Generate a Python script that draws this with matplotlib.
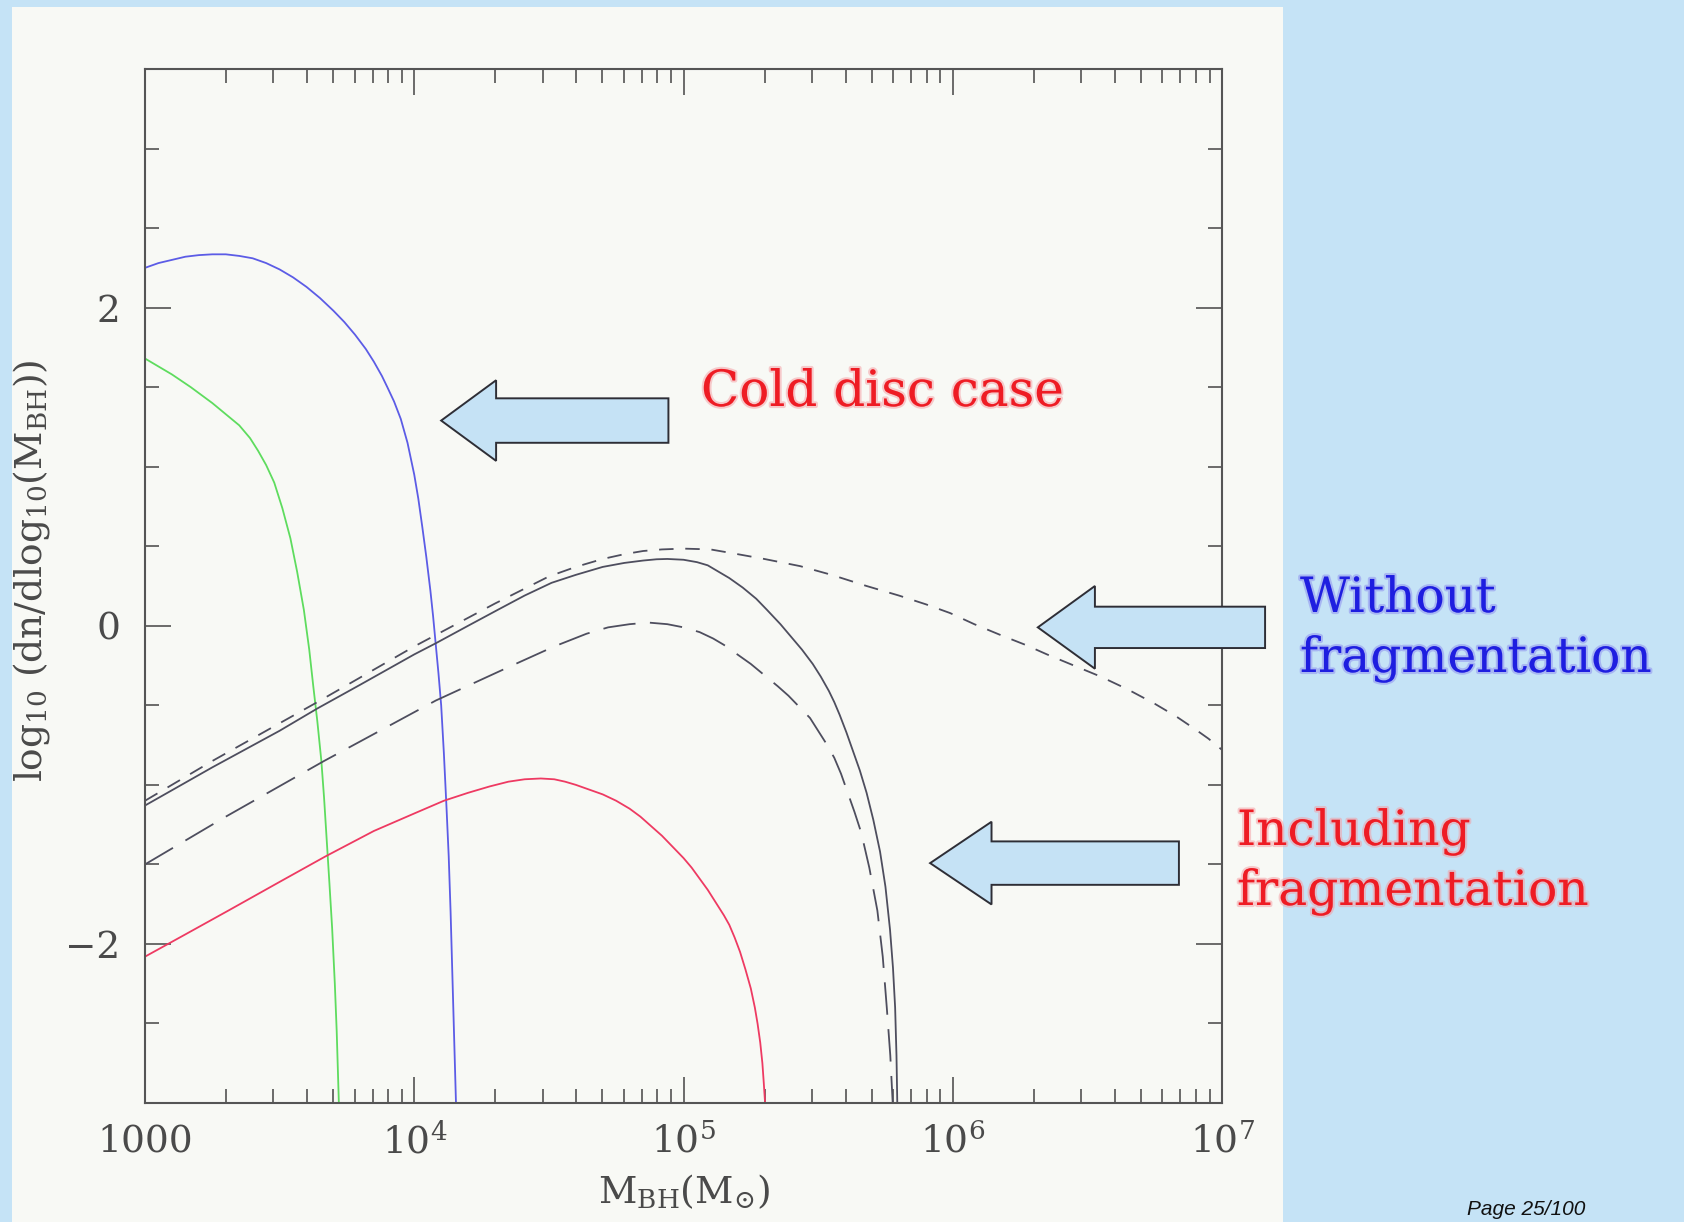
import numpy as np
import matplotlib
matplotlib.use('Agg')
import matplotlib.pyplot as plt
from matplotlib.patches import Polygon, Rectangle
from matplotlib.ticker import FixedLocator, FixedFormatter, LogLocator, NullFormatter, MultipleLocator
import matplotlib.patheffects as pe

plt.rcParams['font.family'] = 'DejaVu Serif'
plt.rcParams['mathtext.fontset'] = 'dejavuserif'

# log10(M_BH) and log10(dn/dlog10 M_BH)
blue_logm = [3.00, 3.05, 3.10, 3.15, 3.20, 3.25, 3.30, 3.35, 3.40, 3.45, 3.50, 3.55, 3.60, 3.65, 3.70, 3.74,
             3.78, 3.82, 3.85, 3.88, 3.90, 3.925, 3.95, 3.975, 4.00, 4.015, 4.03, 4.045, 4.06, 4.07, 4.08,
             4.09, 4.10, 4.11, 4.12, 4.128, 4.135, 4.14, 4.145, 4.15, 4.155]
blue_y = [2.25, 2.28, 2.30, 2.32, 2.33, 2.335, 2.335, 2.325, 2.31, 2.28, 2.24, 2.19, 2.13, 2.06, 1.98, 1.91,
          1.83, 1.74, 1.66, 1.57, 1.50, 1.41, 1.30, 1.15, 0.95, 0.80, 0.62, 0.43, 0.22, 0.06, -0.12,
          -0.30, -0.50, -0.80, -1.15, -1.45, -1.80, -2.10, -2.40, -2.70, -3.0]

green_logm = [3.00, 3.05, 3.10, 3.17, 3.25, 3.30, 3.35, 3.39, 3.42, 3.45, 3.48, 3.51, 3.54, 3.565, 3.59,
              3.61, 3.625, 3.64, 3.655, 3.665, 3.675, 3.685, 3.695, 3.705, 3.712, 3.72]
green_y = [1.68, 1.63, 1.58, 1.50, 1.40, 1.33, 1.26, 1.18, 1.10, 1.01, 0.90, 0.74, 0.55, 0.34, 0.10,
           -0.15, -0.38, -0.60, -0.85, -1.08, -1.35, -1.62, -1.90, -2.25, -2.55, -3.0]

red_logm = [3.00, 3.15, 3.31, 3.50, 3.67, 3.85, 4.00, 4.11, 4.20, 4.28, 4.35, 4.41, 4.47, 4.52, 4.56, 4.60,
            4.65, 4.70, 4.75, 4.80, 4.84, 4.88, 4.92, 4.96, 5.00, 5.03, 5.06, 5.09, 5.12, 5.15, 5.17, 5.19,
            5.21, 5.23, 5.25, 5.265, 5.275, 5.285, 5.293, 5.298, 5.303]
red_y = [-2.08, -1.94, -1.79, -1.61, -1.45, -1.29, -1.18, -1.10, -1.05, -1.01, -0.98, -0.965, -0.96, -0.965,
         -0.98, -1.00, -1.03, -1.06, -1.10, -1.15, -1.20, -1.26, -1.32, -1.39, -1.46, -1.52, -1.59, -1.66,
         -1.74, -1.82, -1.88, -1.96, -2.05, -2.16, -2.28, -2.40, -2.50, -2.62, -2.75, -2.87, -3.0]

solid_logm = [3.00, 3.25, 3.50, 3.64, 3.80, 4.00, 4.08, 4.20, 4.31, 4.41, 4.51, 4.60, 4.70, 4.78, 4.85, 4.90,
              4.94, 5.00, 5.05, 5.09, 5.12, 5.17, 5.22, 5.27, 5.31, 5.36, 5.40, 5.44, 5.48, 5.51, 5.54, 5.56,
              5.58, 5.605, 5.63, 5.655, 5.68, 5.705, 5.73, 5.75, 5.767, 5.778, 5.786, 5.791, 5.794]
solid_y = [-1.13, -0.89, -0.66, -0.52, -0.37, -0.18, -0.11, 0.00, 0.10, 0.19, 0.27, 0.32, 0.37, 0.395, 0.41,
           0.418, 0.42, 0.415, 0.40, 0.38, 0.35, 0.30, 0.24, 0.17, 0.10, 0.01, -0.07, -0.15, -0.24, -0.32,
           -0.41, -0.48, -0.56, -0.67, -0.79, -0.91, -1.05, -1.22, -1.42, -1.64, -1.91, -2.15, -2.40, -2.70, -3.0]

short_logm = [3.00, 3.25, 3.64, 4.00, 4.30, 4.50, 4.60, 4.70, 4.78, 4.85, 4.92, 5.00, 5.10, 5.185, 5.30,
              5.433, 5.55, 5.68, 5.80, 5.90, 5.99, 6.08, 6.18, 6.27, 6.35, 6.45, 6.55, 6.65, 6.75, 6.83,
              6.90, 6.95, 7.00]
short_y = [-1.10, -0.85, -0.48, -0.13, 0.14, 0.31, 0.37, 0.42, 0.45, 0.47, 0.48, 0.485, 0.48, 0.455, 0.42,
           0.375, 0.32, 0.25, 0.19, 0.135, 0.08, 0.01, -0.06, -0.12, -0.18, -0.25, -0.32, -0.40, -0.49, -0.57,
           -0.65, -0.71, -0.78]

long_logm = [3.00, 3.30, 3.665, 4.08, 4.35, 4.52, 4.64, 4.72, 4.80, 4.87, 4.94, 5.00, 5.06, 5.11, 5.15, 5.20,
             5.25, 5.30, 5.35, 5.39, 5.43, 5.47, 5.50, 5.53, 5.56, 5.585, 5.61, 5.635, 5.66, 5.69, 5.72, 5.74,
             5.755, 5.768, 5.777]
long_y = [-1.50, -1.20, -0.85, -0.47, -0.26, -0.13, -0.05, -0.01, 0.01, 0.02, 0.01, -0.01, -0.04, -0.08,
          -0.12, -0.18, -0.24, -0.31, -0.38, -0.44, -0.51, -0.58, -0.66, -0.74, -0.83, -0.93, -1.05, -1.17,
          -1.30, -1.52, -1.79, -2.08, -2.40, -2.70, -3.0]

xtick_vals = [1e3, 1e4, 1e5, 1e6, 1e7]
xtick_labels = ['1000', '$10^4$', '$10^5$', '$10^6$', '$10^7$']

W, H = 1684, 1222
fig = plt.figure(figsize=(W / 100, H / 100), dpi=100, facecolor='#c5e3f6')
fig.patches.append(Rectangle((12 / W, 0), (1283 - 12) / W, (H - 7) / H, transform=fig.transFigure,
                             facecolor='#f8f9f5', edgecolor='none', zorder=-1))

ax = fig.add_axes([145 / W, 119 / H, 1077 / W, 1034 / H])
ax.set_facecolor('#f8f9f5')

line_col = '#4e4e5e'
ax.plot(10 ** np.array(blue_logm), blue_y, color='#5c5ce6', lw=1.3)
ax.plot(10 ** np.array(green_logm), green_y, color='#5edc5e', lw=1.3)
ax.plot(10 ** np.array(red_logm), red_y, color='#ee3a62', lw=1.3)
ax.plot(10 ** np.array(solid_logm), solid_y, color=line_col, lw=1.3)
ax.plot(10 ** np.array(short_logm), short_y, color=line_col, lw=1.3, dashes=(8, 6.5))
ax.plot(10 ** np.array(long_logm), long_y, color=line_col, lw=1.3, dashes=(18, 8))

ax.set_xscale('log')
ax.set_xlim(1e3, 1e7)
ax.set_ylim(-3, 3.5)

ax.xaxis.set_major_locator(FixedLocator(xtick_vals))
ax.xaxis.set_major_formatter(FixedFormatter(xtick_labels))
ax.xaxis.set_minor_locator(LogLocator(base=10, subs=np.arange(2, 10)))
ax.xaxis.set_minor_formatter(NullFormatter())
ax.yaxis.set_major_locator(MultipleLocator(2))
ax.yaxis.set_minor_locator(MultipleLocator(0.5))

ax.tick_params(which='both', direction='in', top=True, right=True, colors='#444444', width=1.1)
ax.tick_params(which='major', length=19, labelsize=27, labelcolor='#4a4a4a')
ax.tick_params(which='minor', length=10)
ax.tick_params(axis='x', which='major', pad=15)
ax.tick_params(axis='y', which='major', pad=18)
for s in ax.spines.values():
    s.set_color('#555555')
    s.set_linewidth(1.5)

ax.set_xlabel('M$_{\\rm BH}$(M$_{⊙}$)', fontsize=27, color='#4a4a4a', va='center')
ax.xaxis.set_label_coords(0.5, -0.086)
ax.set_ylabel(r'log$_{10}$ (dn/dlog$_{10}$(M$_{\rm BH}$))', fontsize=27, color='#4a4a4a', va='center')
ax.yaxis.set_label_coords(-0.105, 0.515)


def arrow(tx, ty, hx, ex, hh, sh):
    verts = [(tx, ty), (hx, ty + hh), (hx, ty + sh), (ex, ty + sh), (ex, ty - sh), (hx, ty - sh), (hx, ty - hh)]
    ax.add_patch(Polygon(verts, closed=True, transform=ax.transAxes, clip_on=False,
                         facecolor='#c5e2f5', edgecolor='#2e2e36', lw=1.4, zorder=6))


arrow(0.275, 0.660, 0.326, 0.486, 0.039, 0.0215)
arrow(0.829, 0.460, 0.882, 1.040, 0.040, 0.020)
arrow(0.729, 0.232, 0.786, 0.960, 0.040, 0.021)

red_txt = '#ee1c24'
blue_txt = '#1e1ee0'
glow_r = [pe.withStroke(linewidth=3, foreground='#f59aa0', alpha=0.5)]
glow_b = [pe.withStroke(linewidth=3, foreground='#8a8af0', alpha=0.5)]
fig.text(701 / W, 1 - 406 / H, 'Cold disc case', fontsize=36, color=red_txt, va='baseline', path_effects=glow_r)
fig.text(1300 / W, 1 - 612 / H, 'Without', fontsize=35, color=blue_txt, va='baseline', path_effects=glow_b)
fig.text(1300 / W, 1 - 672 / H, 'fragmentation', fontsize=35, color=blue_txt, va='baseline', path_effects=glow_b)
fig.text(1237 / W, 1 - 845 / H, 'Including', fontsize=35, color=red_txt, va='baseline', path_effects=glow_r)
fig.text(1237 / W, 1 - 905 / H, 'fragmentation', fontsize=35, color=red_txt, va='baseline', path_effects=glow_r)

fig.text(1467 / W, 1 - 1215 / H, 'Page 25/100', fontsize=15, family='Liberation Sans', style='italic',
         color='#111111', va='baseline')

fig.savefig('out.png', dpi=100, facecolor=fig.get_facecolor())
